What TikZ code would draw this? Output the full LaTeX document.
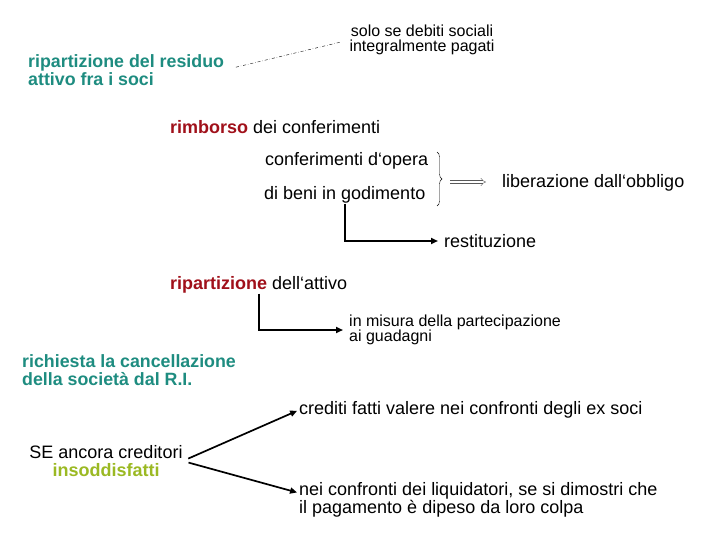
\documentclass[tikz,border=0pt]{standalone}
\usepackage{fontspec}
\setmainfont{Liberation Sans}
\usepackage{xcolor}
\definecolor{dirittoteal}{RGB}{30,140,128}
\definecolor{dirittored}{RGB}{160,16,26}
\definecolor{dirittoolive}{RGB}{155,185,35}
\usepackage{tikz}
\usetikzlibrary{positioning,arrows.meta,decorations.pathreplacing}

\tikzset{
  testo/.style={inner sep=0pt,anchor=west,align=left,font=\fontsize{18}{18}\selectfont},
  piccolo/.style={inner sep=0pt,align=left,font=\fontsize{16}{15}\selectfont},
  titolo/.style={testo,text=dirittoteal,font=\fontsize{17.8}{17.5}\selectfont\bfseries},
  freccia/.style={-{Triangle[length=7pt,width=6pt]},line width=1.7pt,shorten >=6pt},
}

\begin{document}
\begin{tikzpicture}[x=1pt,y=-1pt]
  \useasboundingbox (0,0) rectangle (720,540);

  \node[titolo] (residuo) at (28,70) {ripartizione del residuo\\attivo fra i soci};
  \node[piccolo,align=center] (solo) at (422,40) {solo se debiti sociali\\integralmente pagati};
  \draw[dash dot,thin,shorten <=12pt,shorten >=10pt] (residuo.east) -- (solo.west);

  \node[testo] (rimborso) at (170,127) {\textcolor{dirittored}{\textbf{rimborso}} dei conferimenti};
  \node[testo] (opera) at (265,161) {conferimenti d‘opera};
  \node[testo] (beni) at (264,195) {di beni in godimento};
  \node[testo] (liberazione) at (502,183) {liberazione dall‘obbligo};
  \node[testo] (restituzione) at (444,241) {restituzione};

  % graffa + freccia doppia
  \draw[decorate,decoration={brace,amplitude=5pt}] (437,152) -- (437,206);
  \coordinate (graffa) at (444,182);
  \draw[double,double distance=2.5pt,-{Implies},gray!70!black,
        shorten <=6pt,shorten >=16pt] (graffa) -- (graffa -| liberazione.west);
  \draw[freccia] (beni.south) |- (restituzione.west);

  \node[testo] (attivo) at (170,285) {\textcolor{dirittored}{\textbf{ripartizione}} dell‘attivo};
  \node[piccolo,anchor=west] (misura) at (349,330) {in misura della partecipazione\\ai guadagni};
  \draw[freccia] (attivo.south) |- (misura.west);

  \node[titolo] (cancellazione) at (22,370) {richiesta la cancellazione\\della società dal R.I.};

  \node[testo] (crediti) at (299,410) {crediti fatti valere nei confronti degli ex soci};
  \node[testo,align=center,anchor=center] (se) at (106,461)
    {SE ancora creditori\\\textcolor{dirittoolive}{\textbf{insoddisfatti}}};
  \node[testo] (liquidatori) at (299,500)
    {nei confronti dei liquidatori, se si dimostri che\\il pagamento è dipeso da loro colpa};
  \draw[freccia,shorten >=2pt,shorten <=6pt] (se.east) -- (crediti.west);
  \draw[freccia,shorten >=2pt,shorten <=6pt] (se.east) -- ([yshift=7pt]liquidatori.west);
\end{tikzpicture}
\end{document}
